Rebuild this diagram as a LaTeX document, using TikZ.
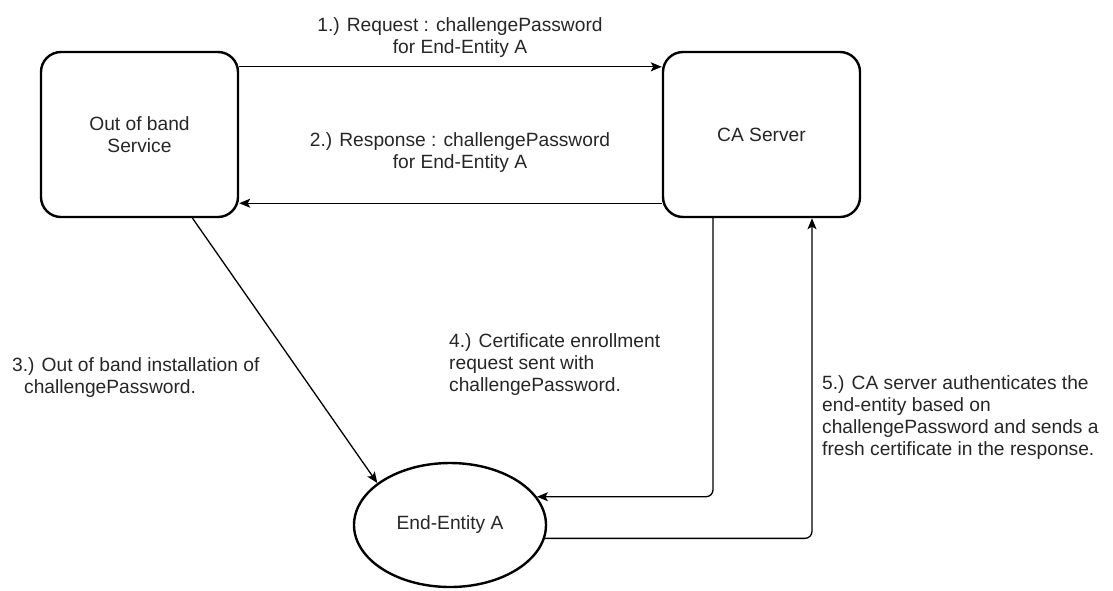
\documentclass[tikz,border=0pt]{standalone}
\usepackage{fontspec}
\setmainfont{Liberation Sans}
\usetikzlibrary{arrows.meta, positioning, shapes.geometric}

\begin{document}
\begin{tikzpicture}[
		x=1pt, y=-1pt,
		font=\fontsize{19.2}{22}\selectfont,
		% Party styles
		svcbox/.style={draw=black, line width=2.4pt, rounded corners=20pt, minimum width=197pt, minimum height=165pt, align=center, inner sep=0pt, text=black!85},
		eebubble/.style={draw=black, line width=2.4pt, ellipse, minimum width=192pt, minimum height=124pt, inner sep=0pt, text=black!85},
		% Message styles
		flow/.style={draw=black, line width=1.3pt, -{Stealth[length=11pt, width=9pt, inset=2.5pt]}},
		note/.style={align=left, anchor=north west, inner sep=0pt, text=black!85},
		caption/.style={align=center, inner sep=0pt, text=black!85}
		]
		\useasboundingbox (0,0) rectangle (1113,590);
		
		% --- PARTIES ---
		\node[svcbox] (oob) at (139.5,134.5) {Out of band\\Service};
		\node[svcbox] (ca) at (761.5,134.5) {CA Server};
		\node[eebubble] (ee) at (450,525) {End-Entity A};
		
		% --- CHALLENGE EXCHANGE ---
		\node[caption] (req) at (460,38) {1.) Request : challengePassword\\for End-Entity A};
		\node[caption] (resp) at (460,153) {2.) Response : challengePassword\\for End-Entity A};
		\draw[flow] ([yshift=-16pt]oob.north east) -- ([yshift=-16pt]ca.north west);
		\draw[flow] ([yshift=15pt]ca.south west) -- ([yshift=15pt]oob.south east);
		
		% --- INSTALLATION AND ENROLLMENT ---
		\node[note] (inst) at (12,357) {3.) Out of band installation of\\\hspace*{12pt}challengePassword.};
		\draw[flow] ([xshift=53pt]oob.south) -- (ee.150);
		
		\node[note] (enroll) at (449,333) {4.) Certificate enrollment\\request sent with\\challengePassword.};
		\draw[flow, rounded corners=7pt] ([xshift=-48.5pt]ca.south) |- (ee.18);
		
		\node[note] (auth) at (822,375) {5.) CA server authenticates the\\end-entity based on\\challengePassword and sends a\\fresh certificate in the response.};
		\draw[flow, rounded corners=7pt] (ee.-8) -| ([xshift=50.5pt]ca.south);
		
	\end{tikzpicture}
\end{document}
